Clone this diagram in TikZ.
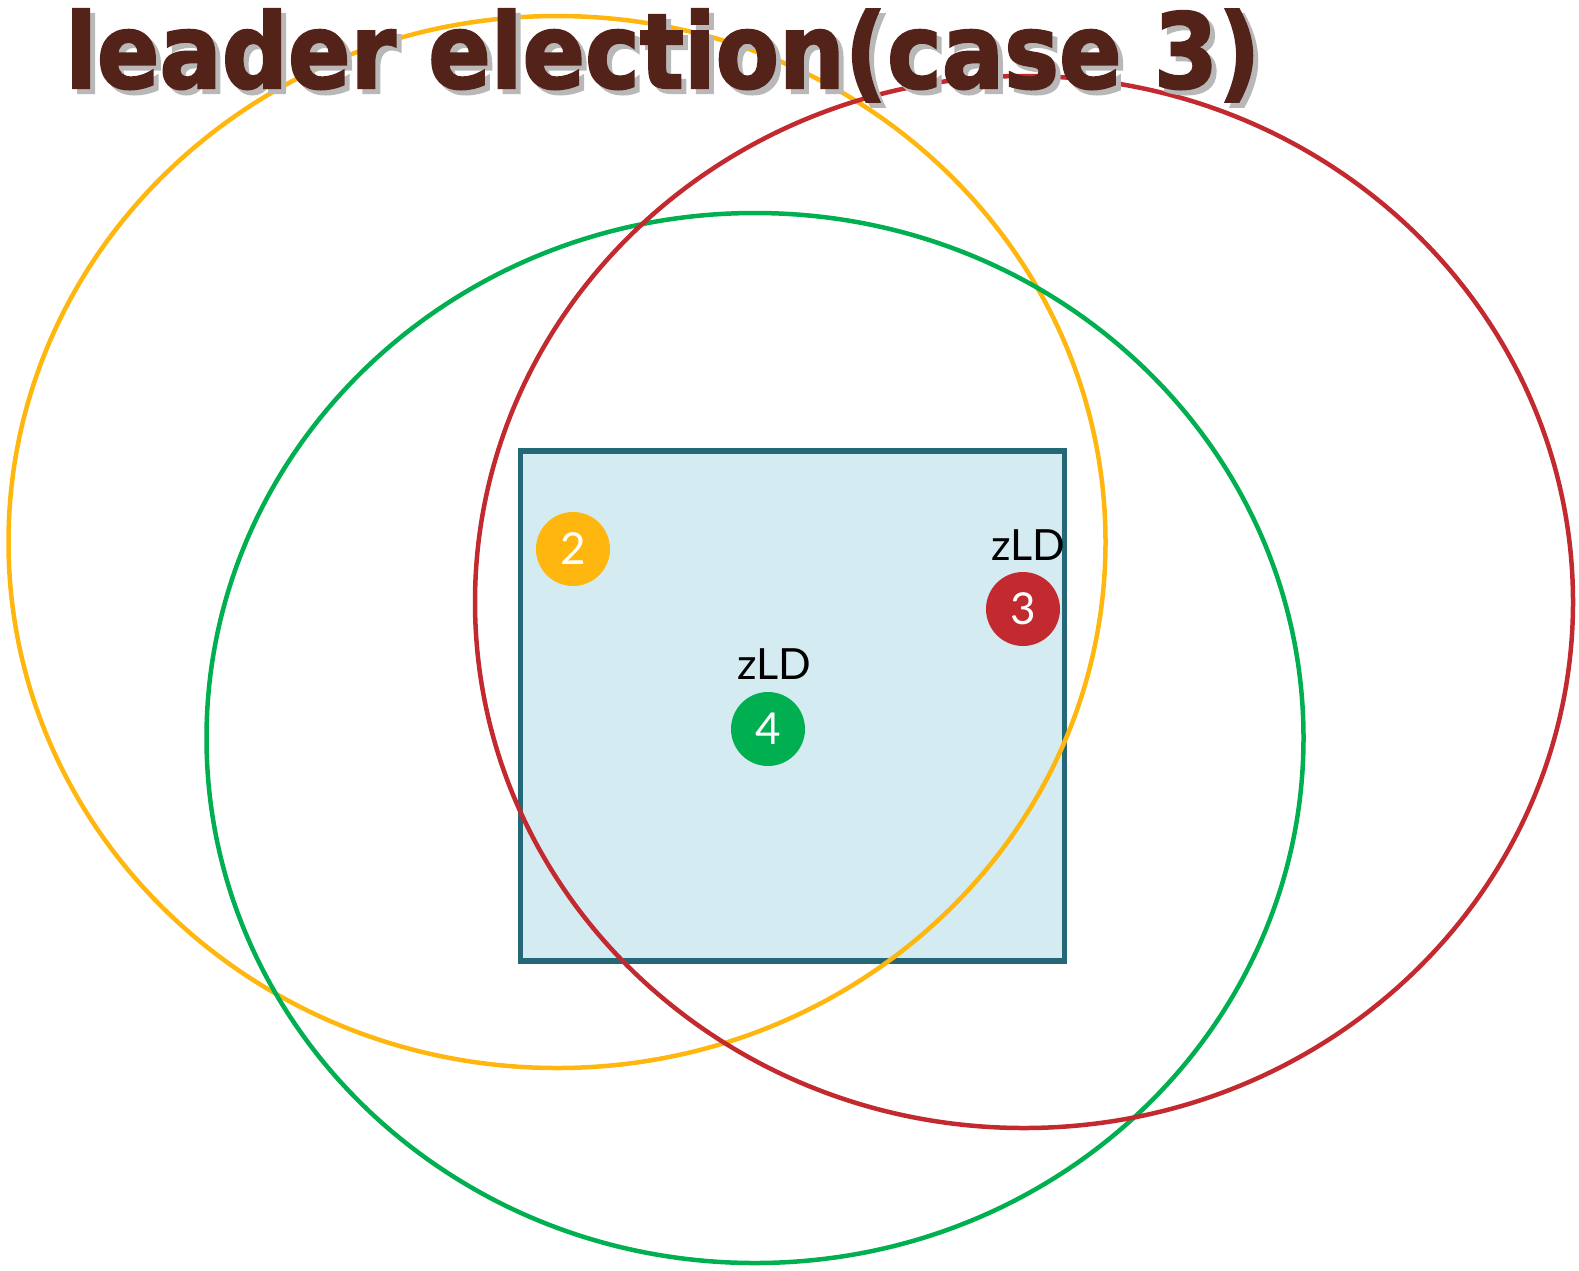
\documentclass[tikz,border=0pt]{standalone}
\usepackage{fontspec}
\setmainfont{Lato}
\newfontfamily\titlefont[FakeBold=2]{DejaVu Sans Bold}
\definecolor{ylw}{HTML}{FFB70F}
\definecolor{grn}{HTML}{00AF50}
\definecolor{rd}{HTML}{C22A2F}
\definecolor{boxfill}{HTML}{D4EBF1}
\definecolor{boxline}{HTML}{246878}
\definecolor{ttl}{HTML}{53231A}
\definecolor{shd}{HTML}{B8B8B8}
\newcommand{\ttltext}{\resizebox{1195pt}{\height}{\titlefont\fontsize{104}{104}\selectfont leader election(case 3)}}
\tikzset{
  rng/.style={line width=4.5pt},
  dot/.style={circle, minimum size=74pt, inner sep=0pt, text=white, font=\fontsize{44}{44}\selectfont},
  lbl/.style={font=\fontsize{43}{43}\selectfont, text=black, inner sep=0pt},
}
\begin{document}
\begin{tikzpicture}[x=1pt,y=-1pt]
\useasboundingbox (0,0) rectangle (1579,1270);
% region box
\node[draw=boxline, fill=boxfill, line width=5.5pt, minimum width=544pt, minimum height=510pt, inner sep=0pt] (box) at (792.5,706) {};
% ranges
\draw[rng, ylw] (557,542) ellipse [x radius=548.5, y radius=526];
\draw[rng, grn] (755,738) ellipse [x radius=548.5, y radius=525];
\draw[rng, rd] (1024,602) ellipse [x radius=549, y radius=526];
% nodes
\node[dot, fill=ylw] (n2) at (573,549) {2};
\node[dot, fill=rd] (n3) at (1023,609) {3};
\node[dot, fill=grn] (n4) at (768,729) {4};
\node[lbl] (l3) at (1028,545) {zLD};
\node[lbl] (l4) at (774,664) {zLD};
% title
\node[anchor=base west, inner sep=0pt, text=shd] (tshadow) at (70,93) {\ttltext};
\node[anchor=base west, inner sep=0pt, text=ttl] (title) at (65,88) {\ttltext};
\end{tikzpicture}
\end{document}
